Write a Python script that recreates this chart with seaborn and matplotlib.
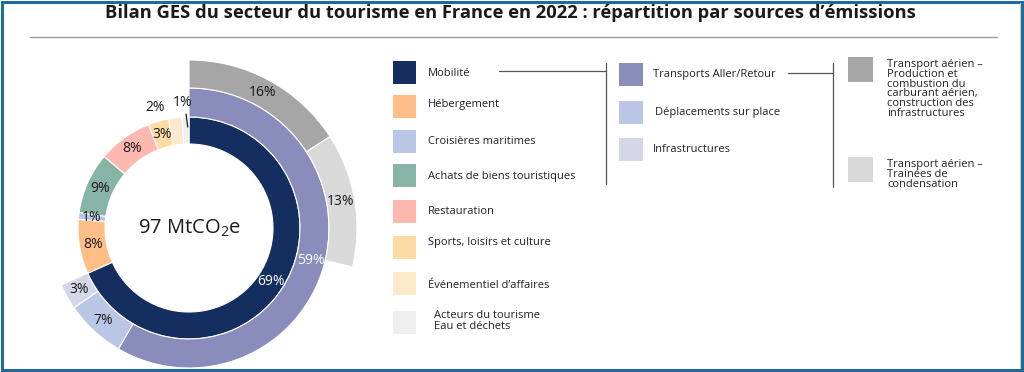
import numpy as np
import matplotlib
matplotlib.use("Agg")
import matplotlib.pyplot as plt
import seaborn as sns

# secteurs (anneau interieur)
secteurs = ["Mobilité", "Hébergement", "Croisières maritimes", "Achats de biens touristiques",
            "Restauration", "Sports, loisirs et culture", "Événementiel d\u2019affaires",
            "Acteurs du tourisme\nEau et déchets"]
secteurs_pct = [69, 8, 1, 9, 8, 3, 2, 1]
secteurs_col = ["#142f5f", "#ffbe88", "#bac6e6", "#88b3a7", "#ffb8b0", "#fcdba3", "#fde8c9", "#efefef"]

# mobilite (anneau du milieu)
mobilite = ["Transports Aller/Retour", "Déplacements sur place", "Infrastructures"]
mobilite_pct = [59, 7, 3]
mobilite_col = ["#8a8dbb", "#bac6e6", "#d5d7e8"]

# transport aerien (anneau exterieur)
aerien = ["Transport aérien \u2013\nProduction et\ncombustion du\ncarburant aérien,\nconstruction des\ninfrastructures",
          "Transport aérien \u2013\nTrainées de\ncondensation"]
aerien_pct = [16, 13]
aerien_col = ["#a6a6a6", "#d9d9d9"]

total = sum(secteurs_pct)

sns.set_theme(style="white")
plt.rcParams["font.family"] = ["Open Sans", "DejaVu Sans"]
plt.rcParams["mathtext.fontset"] = "custom"
plt.rcParams["mathtext.rm"] = "Open Sans"
plt.rcParams["mathtext.it"] = "Open Sans"

W, H = 1024, 372
fig = plt.figure(figsize=(W / 100, H / 100), dpi=100)

# axe en pixels pour les textes / legende
bg = fig.add_axes([0, 0, 1, 1])
bg.set_xlim(0, W)
bg.set_ylim(H, 0)
bg.axis("off")

# cadre
bg.add_patch(plt.Rectangle((1.5, 1.5), W - 3.5, H - 3.5, fill=False, ec="#1f6a96", lw=2.2))
bg.plot([1020, 1020], [3, 368], color="#c8c8c8", lw=0.8)

# titre
bg.text(510, 17.5, "Bilan GES du secteur du tourisme en France en 2022 : répartition par sources d\u2019émissions",
        ha="center", va="baseline", fontsize=13.2, fontweight="bold", color="#1a1a1a")
bg.plot([30, 997], [36.5, 36.5], color="#9a9a9a", lw=1.0)

# donut
cx, cy, R = 189, 228, 172
ax = fig.add_axes([(cx - R) / W, (H - cy - R) / H, 2 * R / W, 2 * R / H])

r_in, r1, r2, r3 = 84, 111, 140, 168

ax.pie(secteurs_pct, colors=secteurs_col, radius=r1, startangle=90, counterclock=False,
       wedgeprops=dict(width=r1 - r_in, edgecolor="white", linewidth=0.8))
ax.pie(mobilite_pct + [total - sum(mobilite_pct)], colors=mobilite_col + ["none"], radius=r2,
       startangle=90, counterclock=False, wedgeprops=dict(width=r2 - r1, edgecolor="white", linewidth=0.8))
ax.pie(aerien_pct + [total - sum(aerien_pct)], colors=aerien_col + ["none"], radius=r3,
       startangle=90, counterclock=False, wedgeprops=dict(width=r3 - r2, edgecolor="white", linewidth=0.8))
# pas de bord pour les parts invisibles
for p in ax.patches:
    if p.get_facecolor()[3] == 0:
        p.set_edgecolor("none")

ax.set_xlim(-R, R)
ax.set_ylim(-R, R)
ax.set_aspect("equal")
ax.axis("off")


def pos(angle_deg, r):
    a = np.deg2rad(90 - angle_deg)
    return r * np.cos(a), r * np.sin(a)


def label_ring(vals, r_mid, colors_txt, overrides=None):
    start = 0.0
    for i, v in enumerate(vals):
        mid = (start + v / 2) / total * 360
        start += v
        rr = r_mid
        if overrides and i in overrides:
            mid, rr = overrides[i]
        x, y = pos(mid, rr)
        ax.text(x, y, f"{v}%", ha="center", va="center", fontsize=10, color=colors_txt[i])


label_ring(secteurs_pct, 97.5, ["white"] + ["#1a1a1a"] * 7, overrides={6: (344.5, 125), 7: (357, 126)})
label_ring(mobilite_pct, 126, ["white", "#1a1a1a", "#1a1a1a"])
label_ring(aerien_pct, 154, ["#1a1a1a", "#1a1a1a"])
# petit trait pour 1%
x0, y0 = pos(358.5, 114)
x1, y1 = pos(359.3, 101)
ax.plot([x0, x1], [y0, y1], color="#1a1a1a", lw=0.9)

ax.text(0, 0, "97 MtCO$_2$e", ha="center", va="center", fontsize=14.5, color="#1a1a1a")

# legende
txt_col = "#222222"
fs = 8.0
col1_y = [72.5, 106, 141, 175, 211, 247, 283, 322]
col1_ty = [73, 104, 141, 176, 212, 243, 286, 321]
for lab, c, ys, yt in zip(secteurs, secteurs_col, col1_y, col1_ty):
    bg.add_patch(plt.Rectangle((393, ys - 11.5), 23, 23, color=c, lw=0))
    tx = 434 if "\n" in lab else 428
    bg.text(tx, yt, lab, ha="left", va="center", fontsize=fs, color=txt_col, linespacing=1.0)

col2_y = [74.5, 112, 149]
col2_tx = [653, 655, 653]
for lab, c, ys, tx in zip(mobilite, mobilite_col, col2_y, col2_tx):
    bg.add_patch(plt.Rectangle((619, ys - 11.5), 24, 23, color=c, lw=0))
    bg.text(tx, ys, lab, ha="left", va="center", fontsize=fs, color=txt_col)

col3_y = [69.5, 169.5]
for lab, c, ys in zip(aerien, aerien_col, col3_y):
    bg.add_patch(plt.Rectangle((848, ys - 12.5), 25, 25, color=c, lw=0))
    bg.text(887, ys - 10.5, lab, ha="left", va="top", fontsize=fs, color=txt_col, linespacing=0.85)

# traits de liaison
line_c = "#555555"
bg.plot([499, 606], [71, 71], color=line_c, lw=0.9)
bg.plot([606, 606], [63, 184], color=line_c, lw=0.9)
bg.plot([788, 833], [73, 73], color=line_c, lw=0.9)
bg.plot([833, 833], [63, 187], color=line_c, lw=0.9)

fig.savefig("out.png", dpi=100)
